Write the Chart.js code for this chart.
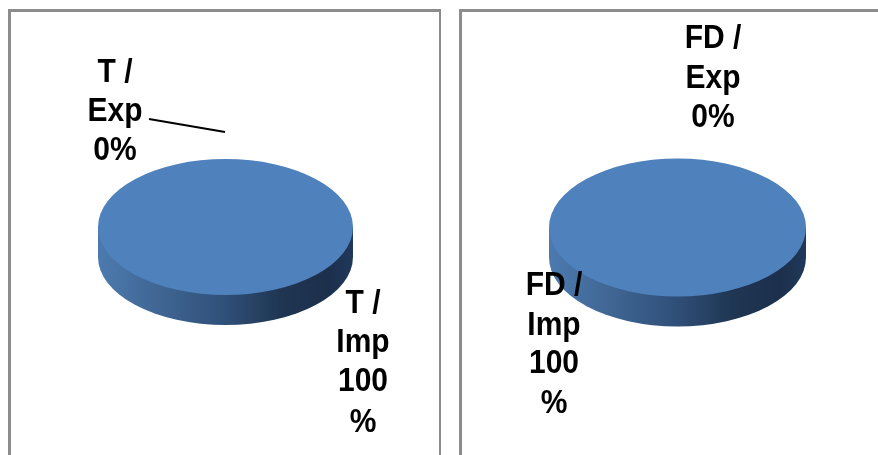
<!DOCTYPE html>
<html>
<head>
<meta charset="utf-8">
<script src="https://cdn.jsdelivr.net/npm/chart.js@4/dist/chart.umd.min.js"></script>
<style>
  html, body { margin: 0; padding: 0; background: #fff; overflow: hidden; }
  body { position: relative; width: 878px; height: 455px; }
  canvas { position: absolute; top: 0; }
  .panel { position: absolute; top: 9px; bottom: -5px; border: 3px solid #8c8c8c; box-sizing: border-box; }
</style>
</head>
<body>
<canvas id="chartT" width="440" height="455" style="left:0"></canvas>
<canvas id="chartFD" width="438" height="455" style="left:440px"></canvas>
<div class="panel" style="left:8px;width:433px;border-right-width:2px"></div>
<div class="panel" style="left:459px;width:430px"></div>

<script>
var tCategories = ['T / Exp', 'T / Imp'];
var tValues = [0, 100];
var tLabels = [['T /', 'Exp', '0%'], ['T /', 'Imp', '100', '%']];

var fdCategories = ['FD / Exp', 'FD / Imp'];
var fdValues = [0, 100];
var fdLabels = [['FD /', 'Exp', '0%'], ['FD /', 'Imp', '100', '%']];

var topColor = '#4f81bd';

// flattens the round pie to an ellipse and puts a side wall under it
var tiltPlugin = {
  id: 'tilt',
  beforeDatasetsDraw: function (chart, args, opts) {
    var arc = chart.getDatasetMeta(0).data[1];
    var ctx = chart.ctx;
    var rx = arc.outerRadius;
    var ry = rx * opts.squash;

    var wall = ctx.createLinearGradient(arc.x - rx, 0, arc.x + rx, 0);
    wall.addColorStop(0, '#4c7aaf');
    wall.addColorStop(0.25, '#3f6592');
    wall.addColorStop(0.5, '#2f4f78');
    wall.addColorStop(0.72, '#1f3552');
    wall.addColorStop(0.9, '#1c304c');
    wall.addColorStop(1, '#20385a');

    ctx.save();
    ctx.beginPath();
    ctx.ellipse(arc.x, arc.y + opts.depth, rx, ry, 0, 0, Math.PI);
    ctx.lineTo(arc.x - rx, arc.y);
    ctx.lineTo(arc.x + rx, arc.y);
    ctx.closePath();
    ctx.fillStyle = wall;
    ctx.fill();
    ctx.restore();

    ctx.save();
    ctx.translate(0, arc.y);
    ctx.scale(1, opts.squash);
    ctx.translate(0, -arc.y);
  },
  afterDatasetsDraw: function (chart) {
    chart.ctx.restore();
  },
  afterDraw: function (chart, args, opts) {
    var ctx = chart.ctx;
    ctx.save();
    ctx.fillStyle = '#000';
    ctx.font = 'bold 30px "Liberation Sans", Arial, sans-serif';
    ctx.textAlign = 'center';
    ctx.textBaseline = 'alphabetic';
    opts.labels.forEach(function (lines, i) {
      var place = opts.places[i];
      lines.forEach(function (line, j) {
        // the original text is a bit taller than it is wide
        ctx.save();
        ctx.translate(place.x, place.y[j]);
        ctx.scale(1, 1.08);
        ctx.fillText(line, 0, 0);
        ctx.restore();
      });
    });
    if (opts.leader) {
      ctx.strokeStyle = '#000';
      ctx.lineWidth = 2;
      ctx.beginPath();
      ctx.moveTo(opts.leader[0], opts.leader[1]);
      ctx.lineTo(opts.leader[2], opts.leader[3]);
      ctx.stroke();
    }
    ctx.restore();
  }
};

function makePie(id, categories, values, padding, tilt) {
  return new Chart(document.getElementById(id), {
    type: 'pie',
    data: {
      labels: categories,
      datasets: [{
        data: values,
        backgroundColor: [topColor, topColor],
        borderWidth: 0
      }]
    },
    options: {
      responsive: false,
      animation: false,
      layout: { padding: padding },
      plugins: {
        legend: { display: false },
        tooltip: { enabled: false },
        tilt: tilt
      }
    },
    plugins: [tiltPlugin]
  });
}

makePie('chartT', tCategories, tValues,
  { left: 98, right: 87, top: 99.5, bottom: 100.5 },
  {
    squash: 68 / 127.5,
    depth: 30,
    labels: tLabels,
    places: [
      { x: 115, y: [82, 121, 160] },
      { x: 363, y: [313, 352, 391, 432] }
    ],
    leader: [149, 119, 225, 132]
  });

makePie('chartFD', fdCategories, fdValues,
  { left: 109, right: 72, top: 99, bottom: 99 },
  {
    squash: 69 / 128.5,
    depth: 30,
    labels: fdLabels,
    places: [
      { x: 273, y: [48, 88, 127] },
      { x: 114, y: [295, 335, 373, 413] }
    ]
  });
</script>
</body>
</html>
